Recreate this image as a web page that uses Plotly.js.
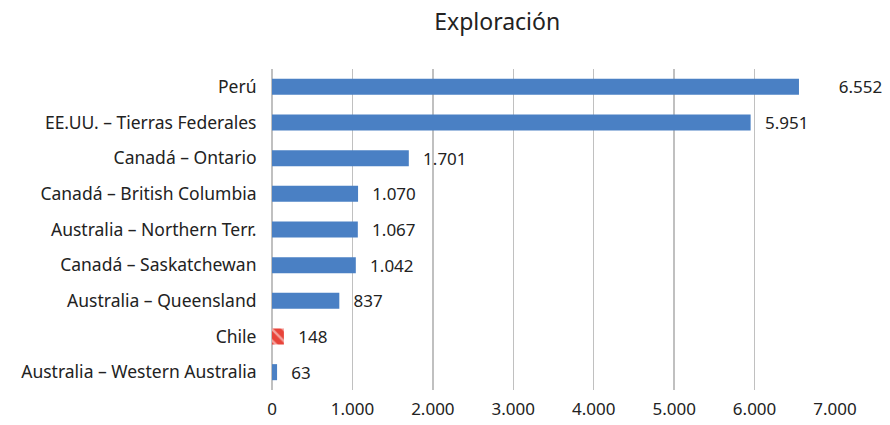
<!DOCTYPE html>
<html><head><meta charset="utf-8">
<script src="https://cdn.plot.ly/plotly-3.0.1.min.js"></script>
<style>body{margin:0;background:#fff}#c{width:890px;height:425px}</style>
</head><body><div id="c"></div>
<script>
const categories = ["Perú","EE.UU. – Tierras Federales","Canadá – Ontario","Canadá – British Columbia","Australia – Northern Terr.","Canadá – Saskatchewan","Australia – Queensland","Chile","Australia – Western Australia"];
const values = [6552,5951,1701,1070,1067,1042,837,148,63];
const tickVals = [0,1000,2000,3000,4000,5000,6000,7000];

const cats = categories.slice().reverse();
const vals = values.slice().reverse();
const colors = cats.map(c => c === "Chile" ? "#e8443a" : "#4a80c4");
const patShapes = cats.map(c => c === "Chile" ? "\\" : "");
const FONT = "Noto Sans";
const maxV = Math.max(...vals);
const pad = v => (v === maxV ? "\u2003\u2003\u2009" : "\u2009\u2009\u2009\u2009");

Plotly.newPlot("c", [{
  type: "bar", orientation: "h",
  y: cats, x: vals,
  marker: {color: colors, line: {width: 0}, pattern: {shape: patShapes, fillmode: "overlay", fgcolor: "#ffffff", size: 8, solidity: 0.3}},
  text: vals.map(v => pad(v) + v.toLocaleString("de-DE")), texttemplate: "%{text}", textposition: "outside",
  constraintext: "none",
  textfont: {family: FONT, size: 17, color: "#222"},
  cliponaxis: false, hoverinfo: "none"
}], {
  width: 890, height: 425,
  separators: ",.",
  margin: {l: 272, r: 55, t: 69, b: 35},
  bargap: 0.55,
  showlegend: false,
  paper_bgcolor: "#fff", plot_bgcolor: "#fff",
  title: {text: "Exploración", x: 0.4, xref: "paper", xanchor: "center", y: 0.948, yanchor: "middle", font: {family: FONT, size: 23, color: "#222"}},
  xaxis: {range: [0, 7000], tickvals: tickVals, tickformat: ",", showgrid: true, gridcolor: "#c0c0c0", gridwidth: 1.5, zeroline: true, zerolinecolor: "#c0c0c0", zerolinewidth: 1.5, showline: false, ticks: "", ticklabelstandoff: 7, tickfont: {family: FONT, size: 17, color: "#222"}},
  yaxis: {automargin: false, ticks: "outside", ticklen: 11, tickcolor: "rgba(0,0,0,0)", tickfont: {family: FONT, size: 17.5, color: "#222"}, showgrid: false, showline: false}
}, {staticPlot: true});
</script></body></html>
